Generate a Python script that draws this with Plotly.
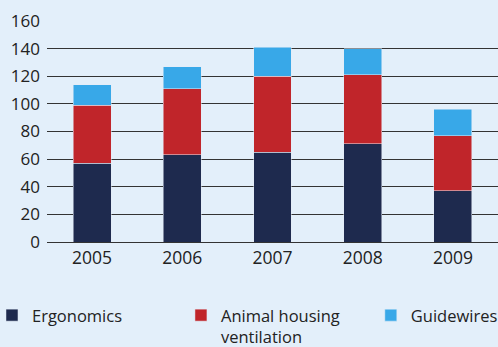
import plotly.graph_objects as go

years = ["2005", "2006", "2007", "2008", "2009"]
ergonomics = [57, 63, 65, 71, 37]
animal_housing = [42, 48, 55, 50, 40]
guidewires = [15, 16, 21, 19, 19]
y_ticks = [0, 20, 40, 60, 80, 100, 120, 140, 160]

bg = "#E3EFFA"
font_family = "Open Sans, Noto Sans, sans-serif"
text_color = "#222222"

fig = go.Figure()
fig.add_trace(go.Bar(x=years, y=ergonomics, name="Ergonomics",
                     marker_color="#1E2A4E", legend="legend"))
fig.add_trace(go.Bar(x=years, y=animal_housing, name="Animal housing<br>ventilation",
                     marker_color="#C0252A", legend="legend2"))
fig.add_trace(go.Bar(x=years, y=guidewires, name="Guidewires",
                     marker_color="#38A8E8", legend="legend3"))

legend_common = dict(
    orientation="h",
    xanchor="left",
    y=-0.253, yanchor="top",
    font=dict(size=16.5, color=text_color),
    valign="top",
    bgcolor="rgba(0,0,0,0)",
)

fig.update_layout(
    barmode="stack",
    bargap=0.58,
    width=498, height=347,
    margin=dict(l=47, r=0, t=21, b=105, autoexpand=False),
    paper_bgcolor=bg, plot_bgcolor=bg,
    font=dict(family=font_family, size=16, color=text_color),
    legend=dict(x=-0.122, **legend_common),
    legend2=dict(x=0.297, **legend_common),
    legend3=dict(x=0.718, **legend_common),
    showlegend=True,
)
fig.update_xaxes(
    type="category", range=[-0.5, 4.5],
    showgrid=False, showline=False, ticks="",
    tickfont=dict(size=17.5, color=text_color),
    ticklabelstandoff=3,
)
fig.update_yaxes(
    range=[0, 160], tickvals=y_ticks,
    showgrid=True, gridcolor="#333333", gridwidth=1,
    zeroline=True, zerolinecolor="#333333", zerolinewidth=1,
    showline=False, ticks="",
    tickfont=dict(size=17, color=text_color),
    ticklabelstandoff=6,
)

fig.write_html("out.html")
